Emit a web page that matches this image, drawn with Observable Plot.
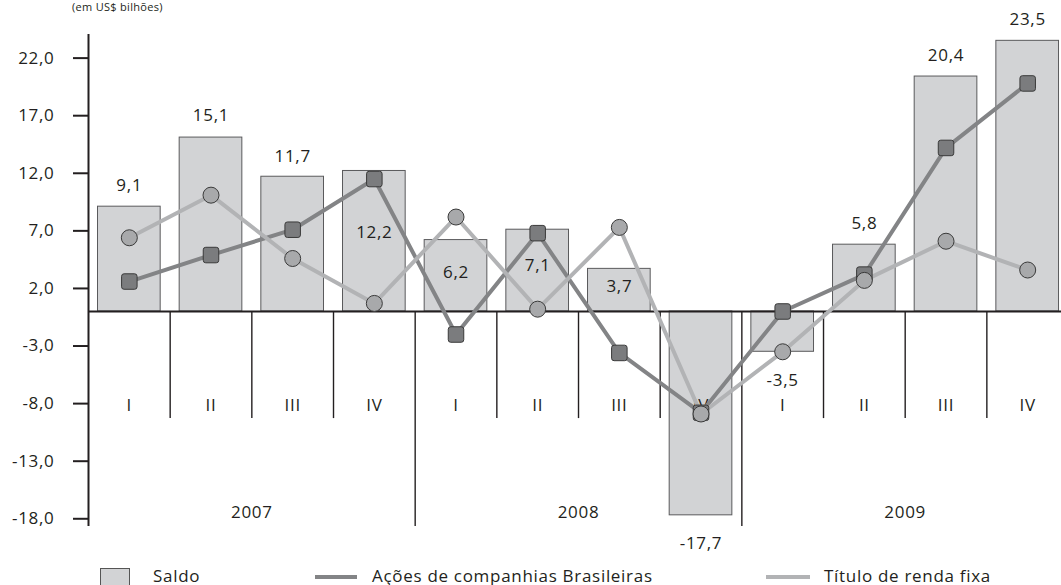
<!DOCTYPE html>
<html><head><meta charset="utf-8">
<script src="https://cdn.jsdelivr.net/npm/d3@7"></script>
<script src="https://cdn.jsdelivr.net/npm/@observablehq/plot@0.6"></script>
<style>
html,body{margin:0;padding:0;background:#fff;overflow:hidden;}
#wrap{position:relative;width:1061px;height:585px;font-family:"Open Sans",sans-serif;color:#231f20;letter-spacing:0.7px;}
#unit{position:absolute;left:72px;top:0px;font-size:11px;line-height:13px;white-space:nowrap;letter-spacing:0.3px;}
#chart{position:absolute;left:0;top:0;}
#legend{position:absolute;left:0;top:560px;width:1061px;height:25px;font-size:17px;}
.lg{position:absolute;white-space:nowrap;line-height:22px;}
.sw-box{position:absolute;left:100px;top:8px;width:30px;height:20px;background:#d2d3d5;border:1px solid #555;box-sizing:border-box;}
.sw-line{position:absolute;height:4px;top:15px;}
</style></head><body>
<div id="wrap">
  <div id="unit">(em US$ bilhões)</div>
  <div id="chart"></div>
  <div id="legend">
    <div class="sw-box"></div>
    <div class="lg" style="left:153px;top:5px;">Saldo</div>
    <div class="sw-line" style="left:315px;width:42px;background:#838486;"></div>
    <div class="lg" style="left:372px;top:5px;">Ações de companhias Brasileiras</div>
    <div class="sw-line" style="left:766px;width:44px;background:#b2b3b5;"></div>
    <div class="lg" style="left:824px;top:5px;">Título de renda fixa</div>
  </div>
</div>
<script>
const quarters = ["I","II","III","IV","I","II","III","IV","I","II","III","IV"];
const years = ["2007","2008","2009"];
const saldo = [9.1,15.1,11.7,12.2,6.2,7.1,3.7,-17.7,-3.5,5.8,20.4,23.5];
const acoes = [2.6,4.9,7.1,11.5,-2.0,6.8,-3.6,-8.8,0.0,3.2,14.2,19.8];
const titulo = [6.4,10.1,4.6,0.7,8.2,0.2,7.3,-8.9,-3.5,2.7,6.1,3.6];
const yTicks = [22,17,12,7,2,-3,-8,-13,-18];
// layout: pixel offsets of value labels from bar end
const labelDy = [-21,-22,-20,62,32,36,18,28,29,-21,-21,-21];

const W = 1061, H = 560, mTop = 34, mBottom = 34, mLeft = 88;
const yDomain = [-18.67, 24.05];
const xDomain = [0, 11.914];
const pxPerUnit = (H - mTop - mBottom) / (yDomain[1] - yDomain[0]);
const quarterLabelY = -8.16, yearLabelY = -17.43, sepBottom = -9.3;

const fmt = v => v.toFixed(1).replace(".", ",");
const data = quarters.map((q, i) => ({
  i, q, saldo: saldo[i], acoes: acoes[i], titulo: titulo[i],
  ly: saldo[i] - labelDy[i] / pxPerUnit
}));
const seps = d3.range(1, 12);

const roundSquare = {
  draw(ctx, size) {
    const s = Math.sqrt(size), h = s / 2, r = 2.5;
    ctx.moveTo(-h + r, -h);
    ctx.arcTo(h, -h, h, h, r);
    ctx.arcTo(h, h, -h, h, r);
    ctx.arcTo(-h, h, -h, -h, r);
    ctx.arcTo(-h, -h, h, -h, r);
    ctx.closePath();
  }
};

const ink = "#231f20";
const fs = 17;
const chart = Plot.plot({
  width: W, height: H,
  marginTop: mTop, marginBottom: mBottom, marginLeft: mLeft, marginRight: 0,
  style: {fontFamily: "'Open Sans', sans-serif", fontSize: fs + "px", color: ink, background: "transparent", overflow: "visible", letterSpacing: "0.7px"},
  x: {type: "linear", domain: xDomain, axis: null},
  y: {domain: yDomain, axis: null},
  marks: [
    Plot.rectY(data, {x1: d => d.i, x2: d => d.i + 1, y: "saldo", insetLeft: 9.5, insetRight: 9.5,
      fill: "#d2d3d5", stroke: "#5a5a5c", strokeWidth: 1}),
    Plot.ruleX(seps, {x: d => d, y1: 0, y2: d => d % 4 === 0 ? yDomain[0] : sepBottom, stroke: ink, strokeWidth: 1.4}),
    Plot.ruleY([0], {stroke: ink, strokeWidth: 2}),
    Plot.ruleX([0], {stroke: ink, strokeWidth: 2}),
    Plot.axisY(yTicks, {tickSize: 15, tickPadding: 19, tickFormat: fmt, strokeWidth: 2, fontSize: fs, stroke: ink, fill: ink}),
    Plot.text(data, {x: d => d.i + 0.5, y: quarterLabelY, text: "q", fontSize: fs, fill: ink}),
    Plot.text(years, {x: (d, j) => j * 4 + 2, y: yearLabelY, text: d => d, fontSize: fs, fill: ink}),
    Plot.text(data, {x: d => d.i + 0.5, y: "ly", text: d => fmt(d.saldo), fontSize: fs, fill: ink}),
    Plot.line(data, {x: d => d.i + 0.5, y: "acoes", stroke: "#838486", strokeWidth: 4}),
    Plot.line(data, {x: d => d.i + 0.5, y: "titulo", stroke: "#b2b3b5", strokeWidth: 4}),
    Plot.dot(data, {x: d => d.i + 0.5, y: "acoes", symbol: roundSquare, r: 8.75, fill: "#7b7c7e", stroke: "#3a3a3a", strokeWidth: 1}),
    Plot.dot(data, {x: d => d.i + 0.5, y: "titulo", r: 8, fill: "#a8a9ab", stroke: "#3a3a3a", strokeWidth: 1})
  ]
});
document.getElementById("chart").appendChild(chart);
</script>
</body></html>
